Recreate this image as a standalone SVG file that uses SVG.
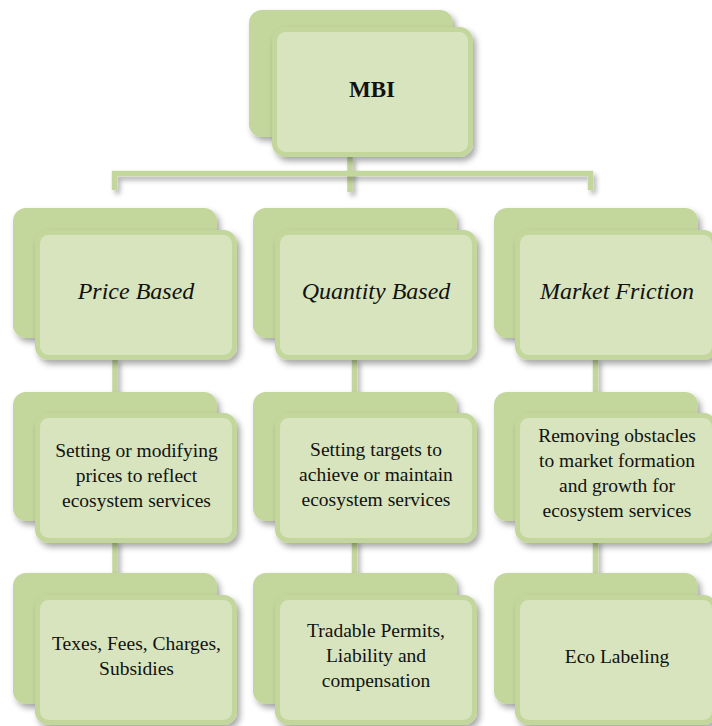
<svg xmlns="http://www.w3.org/2000/svg" width="712" height="726" viewBox="0 0 712 726">
<defs>
<filter id="sh" x="-10%" y="-10%" width="130%" height="140%">
<feDropShadow dx="3" dy="4" stdDeviation="3" flood-color="#000" flood-opacity="0.35"/>
</filter>
<filter id="lsh" filterUnits="userSpaceOnUse" x="0" y="0" width="712" height="726">
<feDropShadow dx="3" dy="4" stdDeviation="2.5" flood-color="#000" flood-opacity="0.3"/>
</filter>
</defs>
<style>
.back{fill:#c3d69b;filter:url(#sh)}
.front{fill:#d7e4bd;stroke:#c3d69b;stroke-width:5;filter:url(#sh)}
.conn{fill:none;stroke:#c3d69b;stroke-width:5.5;filter:url(#lsh)}
text{fill:#111;text-anchor:middle}
.t1{font-size:23px;font-weight:bold}
.t2{font-size:24px;font-style:italic}
.t3{font-size:19.5px}
</style>
<g id="connectors">
<path class="conn" d="M350,156 V192"/>
<path class="conn" d="M114.5,190 V173.5 H590.5 V190"/>
<path class="conn" d="M115,358 V396"/>
<path class="conn" d="M354.5,358 V396"/>
<path class="conn" d="M595.5,358 V396"/>
<path class="conn" d="M115,540 V577"/>
<path class="conn" d="M354.5,540 V577"/>
<path class="conn" d="M595.5,540 V577"/>
</g>
<g font-family="'Liberation Serif', 'DejaVu Serif', 'Times New Roman', serif">
<g id="node-mbi">
<rect class="back" x="249" y="10" width="204" height="127" rx="13"/>
<rect class="front" x="274.5" y="29.5" width="196" height="125" rx="11"/>
<text class="t1" x="372" y="97">MBI</text>
</g>
<g id="node-price">
<rect class="back" x="13" y="208" width="204" height="130" rx="13"/>
<rect class="front" x="37.5" y="232.5" width="197" height="125" rx="11"/>
<text class="t2" x="136" y="299">Price Based</text>
</g>
<g id="node-quantity">
<rect class="back" x="253" y="208" width="204" height="130" rx="13"/>
<rect class="front" x="277.5" y="232.5" width="197" height="125" rx="11"/>
<text class="t2" x="376" y="299">Quantity Based</text>
</g>
<g id="node-friction">
<rect class="back" x="494" y="208" width="204" height="130" rx="13"/>
<rect class="front" x="517.5" y="232.5" width="197" height="125" rx="11"/>
<text class="t2" x="617" y="299">Market Friction</text>
</g>
<g id="node-price-desc">
<rect class="back" x="13" y="392" width="204" height="129" rx="13"/>
<rect class="front" x="37.5" y="415.5" width="197" height="125" rx="11"/>
<text class="t3" x="136.5" y="456.5">Setting or modifying</text>
<text class="t3" x="136.5" y="481.5">prices to reflect</text>
<text class="t3" x="136.5" y="506.5">ecosystem services</text>
</g>
<g id="node-quantity-desc">
<rect class="back" x="253" y="392" width="204" height="129" rx="13"/>
<rect class="front" x="277.5" y="415.5" width="197" height="125" rx="11"/>
<text class="t3" x="376" y="456">Setting targets to</text>
<text class="t3" x="376" y="481">achieve or maintain</text>
<text class="t3" x="376" y="506">ecosystem services</text>
</g>
<g id="node-friction-desc">
<rect class="back" x="494" y="392" width="204" height="129" rx="13"/>
<rect class="front" x="517.5" y="415.5" width="197" height="125" rx="11"/>
<text class="t3" x="617" y="442">Removing obstacles</text>
<text class="t3" x="617" y="467">to market formation</text>
<text class="t3" x="617" y="492">and growth for</text>
<text class="t3" x="617" y="517">ecosystem services</text>
</g>
<g id="node-price-tools">
<rect class="back" x="13" y="573" width="204" height="131" rx="13"/>
<rect class="front" x="37.5" y="597.5" width="197" height="125" rx="11"/>
<text class="t3" x="136.5" y="650">Texes, Fees, Charges,</text>
<text class="t3" x="136.5" y="675">Subsidies</text>
</g>
<g id="node-quantity-tools">
<rect class="back" x="253" y="573" width="204" height="131" rx="13"/>
<rect class="front" x="277.5" y="597.5" width="197" height="125" rx="11"/>
<text class="t3" x="376" y="637">Tradable Permits,</text>
<text class="t3" x="376" y="662">Liability and</text>
<text class="t3" x="376" y="687">compensation</text>
</g>
<g id="node-friction-tools">
<rect class="back" x="494" y="573" width="204" height="131" rx="13"/>
<rect class="front" x="517.5" y="597.5" width="197" height="125" rx="11"/>
<text class="t3" x="617" y="663">Eco Labeling</text>
</g>
</g>
</svg>
